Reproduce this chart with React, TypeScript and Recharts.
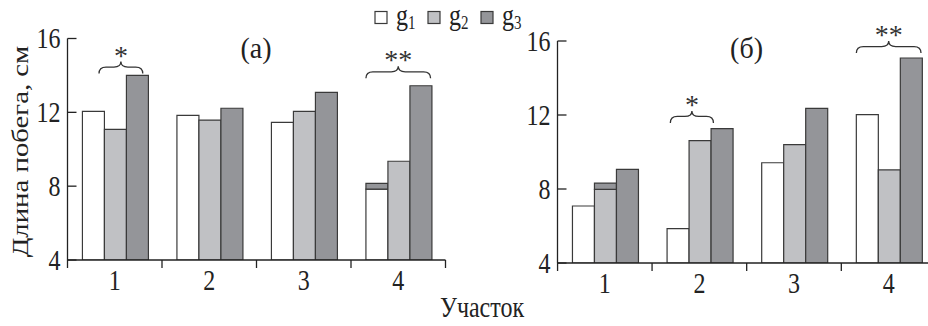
import React from 'react';
import { BarChart, Bar, XAxis, YAxis, ReferenceDot } from 'recharts';

// ---- data ----
const categories = ['1', '2', '3', '4'];
const yTicks = [4, 8, 12, 16];
const seriesNames = ['g', 'g', 'g'];
const seriesSubs = ['1', '2', '3'];

const leftG1 = [12.05, 11.84, 11.46, 7.84];
const leftG1Cap = [0, 0, 0, 8.15];
const leftG2 = [11.08, 11.58, 12.05, 9.35];
const leftG2Cap = [0, 0, 0, 0];
const leftG3 = [14.0, 12.22, 13.08, 13.44];

const rightG1 = [7.08, 5.86, 9.42, 12.02];
const rightG1Cap = [0, 0, 0, 0];
const rightG2 = [7.98, 10.61, 10.4, 9.03];
const rightG2Cap = [8.32, 0, 0, 0];
const rightG3 = [9.06, 11.26, 12.36, 15.08];

// significance braces: category, level (y value of brace ends), span in bar slots, mark
const leftNotes = [
  { cat: '1', level: 14.1, from: 0.77, to: 2.8, mark: '*' },
  { cat: '4', level: 13.84, from: 0, to: 3, mark: '**' },
];
const rightNotes = [
  { cat: '2', level: 11.57, from: 0.15, to: 2.15, mark: '*' },
  { cat: '4', level: 15.35, from: 0, to: 3, mark: '**' },
];

const panelLabels = ['(а)', '(б)'];
const yLabel = 'Длина побега, см';
const xLabel = 'Участок';

// ---- style ----
const FONT = '"Liberation Serif", "Times New Roman", serif';
const FILLS = ['#ffffff', '#c0c1c4', '#949599'];
const STROKE = '#3a3a3a';
const AXIS = '#222';
const GAP = 0.158;
const BAND = 94.5;
const BW = (BAND * (1 - 2 * GAP)) / 3;
const VS = 1.2;

function buildRows(g1: number[], g1c: number[], g2: number[], g2c: number[], g3: number[]) {
  return categories.map((c, i) => ({
    cat: c,
    g1: g1[i],
    g1cap: g1c[i] ? g1c[i] - g1[i] : 0,
    g2: g2[i],
    g2cap: g2c[i] ? g2c[i] - g2[i] : 0,
    g3: g3[i],
  }));
}

const leftRows = buildRows(leftG1, leftG1Cap, leftG2, leftG2Cap, leftG3);
const rightRows = buildRows(rightG1, rightG1Cap, rightG2, rightG2Cap, rightG3);

const YTick = (props: any) => {
  const { x, y, payload } = props;
  return (
    <g>
      <line x1={x + 7} x2={x + 16} y1={y} y2={y} stroke={AXIS} strokeWidth={1.3} />
      <text
        transform={`translate(${x},${y + 9.5}) scale(1,${VS})`}
        textAnchor="end"
        fontFamily={FONT}
        fontSize={24}
        fill="#222"
      >
        {payload.value}
      </text>
    </g>
  );
};

const XTick = (props: any) => {
  const { x, y, payload, index } = props;
  return (
    <g>
      {index === 0 && (
        <line x1={x - BAND / 2} x2={x - BAND / 2} y1={y} y2={y + 8} stroke={AXIS} strokeWidth={1.3} />
      )}
      <line x1={x + BAND / 2} x2={x + BAND / 2} y1={y} y2={y + 8} stroke={AXIS} strokeWidth={1.3} />
      <text
        transform={`translate(${x},${y + 30}) scale(1,${VS})`}
        textAnchor="middle"
        fontFamily={FONT}
        fontSize={24}
        fill="#222"
      >
        {payload.value}
      </text>
    </g>
  );
};

const makeBrace = (note: any) => (props: any) => {
  const { cx, cy } = props;
  if (cx == null || cy == null) return <g />;
  const start = cx - 1.5 * BW;
  const x0 = start + note.from * BW;
  const x1 = start + note.to * BW;
  const xm = (x0 + x1) / 2;
  const yE = cy;
  const yH = cy - 6.5;
  const yT = cy - 12;
  const r = 7;
  const d = `M${x0},${yE} Q${x0},${yH} ${x0 + r},${yH} L${xm - r},${yH} Q${xm},${yH} ${xm},${yT} Q${xm},${yH} ${xm + r},${yH} L${x1 - r},${yH} Q${x1},${yH} ${x1},${yE}`;
  return (
    <g>
      <path d={d} fill="none" stroke="#333" strokeWidth={1.3} />
      <text x={xm} y={yT + 3} textAnchor="middle" fontFamily={FONT} fontSize={28} fill="#333">
        {note.mark}
      </text>
    </g>
  );
};

function Panel(props: { rows: any[]; notes: any[]; width: number; yAxisWidth: number; top: number; xAxisHeight: number; right: number }) {
  const { rows, notes, width, yAxisWidth, top, xAxisHeight, right } = props;
  return (
    <BarChart
      width={width}
      height={326}
      data={rows}
      margin={{ top, right, bottom: 0, left: 0 }}
      barCategoryGap={`${GAP * 100}%`}
      barGap={0}
    >
      <XAxis
        dataKey="cat"
        height={xAxisHeight}
        tickSize={0}
        tickMargin={0}
        tickLine={false}
        axisLine={{ stroke: AXIS, strokeWidth: 1.3 }}
        tick={<XTick />}
        interval={0}
      />
      <YAxis
        type="number"
        domain={[4, 16]}
        ticks={yTicks}
        allowDataOverflow
        width={yAxisWidth}
        tickSize={0}
        tickMargin={7}
        tickLine={false}
        axisLine={{ stroke: AXIS, strokeWidth: 1.3 }}
        tick={<YTick />}
        interval={0}
      />
      <Bar dataKey="g1" stackId="a" fill={FILLS[0]} stroke={STROKE} strokeWidth={1.2} isAnimationActive={false} />
      <Bar dataKey="g1cap" stackId="a" fill={FILLS[2]} stroke={STROKE} strokeWidth={1.2} isAnimationActive={false} />
      <Bar dataKey="g2" stackId="b" fill={FILLS[1]} stroke={STROKE} strokeWidth={1.2} isAnimationActive={false} />
      <Bar dataKey="g2cap" stackId="b" fill={FILLS[2]} stroke={STROKE} strokeWidth={1.2} isAnimationActive={false} />
      <Bar dataKey="g3" stackId="c" fill={FILLS[2]} stroke={STROKE} strokeWidth={1.2} isAnimationActive={false} />
      {notes.map((n, i) => (
        <ReferenceDot key={i} x={n.cat} y={n.level} r={0} ifOverflow="visible" shape={makeBrace(n)} />
      ))}
    </BarChart>
  );
}

export default function App() {
  const legendX = [375, 428, 481];
  return (
    <div style={{ position: 'absolute', left: 0, top: 0, width: 928, height: 326, overflow: 'hidden', background: '#fff' }}>
      <div style={{ position: 'absolute', left: 0, top: 0 }}>
        <Panel rows={leftRows} notes={leftNotes} width={464} yAxisWidth={67.5} top={38.5} xAxisHeight={66} right={18.5} />
      </div>
      <div style={{ position: 'absolute', left: 464, top: 0 }}>
        <Panel rows={rightRows} notes={rightNotes} width={472} yAxisWidth={93.5} top={41} xAxisHeight={63} right={0} />
      </div>
      <svg width={928} height={326} style={{ position: 'absolute', left: 0, top: 0, pointerEvents: 'none' }}>
        {seriesNames.map((nm, i) => (
          <g key={i}>
            <rect x={legendX[i]} y={11.5} width={12} height={12} fill={FILLS[i]} stroke={STROKE} strokeWidth={1.2} />
            <text transform={`translate(${legendX[i] + 21},25) scale(1,${VS})`} fontFamily={FONT} fontSize={24} fill="#222">
              {nm}
              <tspan fontSize={15} dy={3}>{seriesSubs[i]}</tspan>
            </text>
          </g>
        ))}
        <text transform="translate(256,58) scale(1,1.05)" textAnchor="middle" fontFamily={FONT} fontSize={28} fill="#222">
          {panelLabels[0]}
        </text>
        <text transform="translate(746.5,58) scale(1,1.05)" textAnchor="middle" fontFamily={FONT} fontSize={28} fill="#222">
          {panelLabels[1]}
        </text>
        <text transform={`translate(482,317) scale(1,${VS})`} textAnchor="middle" fontFamily={FONT} fontSize={24} fill="#222">
          {xLabel}
        </text>
        <text transform={`translate(28,151.5) rotate(-90) scale(${VS},1)`} textAnchor="middle" fontFamily={FONT} fontSize={24} fill="#222">
          {yLabel}
        </text>
      </svg>
    </div>
  );
}
